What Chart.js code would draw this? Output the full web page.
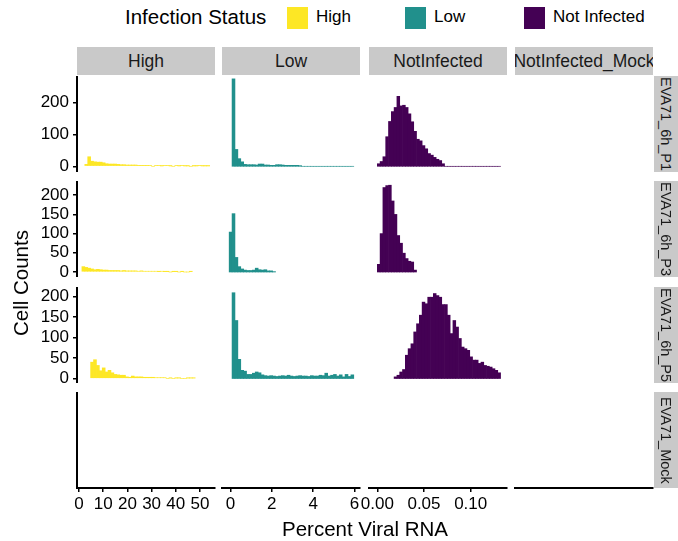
<!DOCTYPE html>
<html>
<head>
<meta charset="utf-8">
<script src="https://cdn.jsdelivr.net/npm/chart.js@4.4.0/dist/chart.umd.min.js"></script>
<style>
    html, body { margin: 0; padding: 0; background: #fff; }
    #root {
        position: relative; width: 678px; height: 541px; overflow: hidden;
        font-family: "Liberation Sans", Arial, sans-serif; color: #000;
    }
    canvas { position: absolute; }
    .strip-top {
        position: absolute; top: 47px; height: 28px; background: #c9c9c9;
        display: flex; align-items: center; justify-content: center;
        overflow: hidden; white-space: nowrap; font-size: 17.5px; color: #1a1a1a;
    }
    .strip-right {
        position: absolute; left: 654px; width: 28px; background: #c9c9c9;
        display: flex; align-items: center; justify-content: center;
        overflow: hidden; white-space: nowrap; font-size: 14.5px; color: #1a1a1a;
    }
    .strip-right span { writing-mode: vertical-rl; margin-right: 5px; }
    .legend-title { position: absolute; left: 125px; top: 5px; font-size: 20.5px; }
    .swatch { position: absolute; top: 7px; width: 21px; height: 22px; }
    .legend-label { position: absolute; top: 7px; font-size: 17px; }
    .x-title { position: absolute; left: 0; width: 730px; top: 517px; text-align: center; font-size: 20.5px; }
    .y-title {
        position: absolute; left: 21px; top: 283px; font-size: 20.5px; white-space: nowrap;
        transform: translate(-50%, -50%) rotate(-90deg);
    }
</style>
</head>
<body>
<div id="root"></div>
<script>
// facets
const ROWS = ["EVA71_6h_P1", "EVA71_6h_P3", "EVA71_6h_P5", "EVA71_Mock"];
const COLS = ["High", "Low", "NotInfected", "NotInfected_Mock"];
const LEGEND_LABELS = ["High", "Low", "Not Infected"];
const COLORS = ["#FDE725", "#21908C", "#440154"];

// histogram bins per column (High, Low, NotInfected)
const BIN_START = [0, -0.06, 0];
const BIN_WIDTH = [1.2, 0.14, 0.003];

// cell counts per bin (null = outside the data range)
const _ = null;
const highP1 = [_,_,6,30,16,14,13,13,11,8,7,7,7,6,5,5,4,4,4,4,3,3,3,3,2,0,2,2,1,2,2,1,0,2,1,2,1,1,0,1,1,2,1,1,1];
const lowP1 = [_,275,53,24,14,6,5,5,5,4,7,7,4,4,3,3,5,5,4,3,3,3,3,3,2,0,0,0,0,0,0,0,0,0,0,0,0,0,0,0,0,0,0,_,_];
const notInfP1 = [8,15,30,93,141,172,185,220,190,192,185,165,140,110,85,80,65,55,40,35,28,22,18,8,0,0,0,0,0,0,0,0,0,0,0,0,0,0,0,0,0,0,0,0,_];

const highP3 = [_,14,12,10,8,6,7,6,5,5,4,4,4,4,3,4,3,3,3,3,2,3,2,2,2,2,2,1,2,1,1,0,1,1,0,1,0,0,1,_,_,_,_,_,_];
const lowP3 = [104,152,38,14,8,5,4,4,5,10,6,5,6,3,3,1,_,_,_,_,_,_,_,_,_,_,_,_,_,_,_,_,_,_,_,_,_,_,_,_,_,_,_,_,_];
const notInfP3 = [20,100,220,225,226,185,150,95,75,49,35,28,26,5,_,_,_,_,_,_,_,_,_,_,_,_,_,_,_,_,_,_,_,_,_,_,_,_,_,_,_,_,_,_,_];

const highP5 = [_,_,_,_,40,46,32,19,26,16,20,14,10,9,8,8,4,3,6,4,4,4,3,3,3,3,2,2,2,2,0,1,0,1,1,0,0,1,1,1,_,_,_,_,_];
const lowP5 = [_,210,142,47,20,18,10,10,13,16,14,9,7,6,7,6,5,6,7,6,8,6,5,6,7,6,6,5,7,6,6,8,7,13,6,8,10,6,9,4,10,5,9,_,_];
const notInfP5 = [_,_,_,_,_,_,4,8,16,22,57,73,85,114,134,155,187,183,199,199,208,203,199,181,181,155,110,142,126,98,77,73,69,53,45,45,37,40,32,30,28,24,20,14,_];

const COUNTS = [
    [highP1, lowP1, notInfP1, null],
    [highP3, lowP3, notInfP3, null],
    [highP5, lowP5, notInfP5, null],
    [null, null, null, null]
];

// axes
const Y_RANGE = [[-18, 284], [-13, 237], [-11, 224], [0, 1]];
const Y_TICKS = [[0, 100, 200], [0, 50, 100, 150, 200], [0, 50, 100, 150, 200], []];
const X_RANGE = [[-0.83, 56.2], [-0.406, 6.261], [-0.00889, 0.1389], [0, 1]];
const X_TICKS = [[0, 10, 20, 30, 40, 50], [0, 2, 4, 6], [0, 0.05, 0.10], []];
const X_TICK_LABELS = [["0", "10", "20", "30", "40", "50"], ["0", "2", "4", "6"], ["0.00", "0.05", "0.10"], []];

// layout
const COL_LEFT = [77, 222, 369, 515];
const ROW_TOP = [76, 181, 287, 392];
const PANEL_W = 138;
const PANEL_H = 96;
const X_AXIS_H = 53;
const EXT = 24;

class FacetChartManager {
    constructor(root) {
        this.root = root;
        this.charts = [];
    }

    render() {
        for (let r = 0; r < ROWS.length; r++) {
            for (let c = 0; c < COLS.length; c++) {
                this._createPanel(r, c);
            }
        }
        this._createStrips();
        this._createLegend();
        this._createTitles();
    }

    /**
     * one histogram panel
     */
    _createPanel(r, c) {
        const isLeft = c === 0;
        const isBottom = r === ROWS.length - 1;
        const left = isLeft ? 0 : COL_LEFT[c] - EXT;
        const width = COL_LEFT[c] + PANEL_W + EXT - left;
        const height = PANEL_H + (isBottom ? X_AXIS_H : 0);

        const canvas = document.createElement("canvas");
        canvas.width = width;
        canvas.height = height;
        canvas.style.left = left + "px";
        canvas.style.top = ROW_TOP[r] + "px";
        this.root.appendChild(canvas);

        const counts = COUNTS[r][c];
        const datasets = [];
        if (counts) {
            datasets.push({
                data: counts.map((y, i) => ({ x: BIN_START[c] + BIN_WIDTH[c] * (i + 0.5), y: y })),
                backgroundColor: COLORS[c],
                borderWidth: 0,
                barPercentage: 1,
                categoryPercentage: 1
            });
        }

        const tickFont = { family: "Liberation Sans", size: 17 };
        const axisGrid = {
            display: true,
            drawOnChartArea: false,
            drawTicks: true,
            tickLength: 4,
            color: "#000",
            lineWidth: 1.5,
            offset: false
        };

        const chart = new Chart(canvas.getContext("2d"), {
            type: "bar",
            data: { datasets: datasets },
            options: {
                responsive: false,
                animation: false,
                events: [],
                layout: { padding: { left: isLeft ? 0 : EXT, right: EXT, top: 0, bottom: 0 } },
                plugins: { legend: { display: false }, tooltip: { enabled: false } },
                scales: {
                    x: {
                        type: "linear",
                        min: X_RANGE[c][0],
                        max: X_RANGE[c][1],
                        offset: false,
                        display: isBottom,
                        grid: axisGrid,
                        border: { display: true, color: "#000", width: 2 },
                        ticks: {
                            font: tickFont,
                            color: "#000",
                            padding: 2,
                            maxRotation: 0,
                            autoSkip: false,
                            callback: (v, i) => X_TICK_LABELS[c][i]
                        },
                        afterBuildTicks: s => { s.ticks = X_TICKS[c].map(v => ({ value: v })); },
                        afterFit: s => {
                            if (!isBottom) return;
                            s.height = X_AXIS_H;
                            s.paddingLeft = 0;
                            s.paddingRight = 0;
                        }
                    },
                    y: {
                        type: "linear",
                        min: Y_RANGE[r][0],
                        max: Y_RANGE[r][1],
                        display: isLeft,
                        grid: axisGrid,
                        border: { display: true, color: "#000", width: 2 },
                        ticks: {
                            font: tickFont,
                            color: "#000",
                            padding: 4,
                            autoSkip: false
                        },
                        afterBuildTicks: s => { s.ticks = Y_TICKS[r].map(v => ({ value: v })); },
                        afterFit: s => {
                            if (!isLeft) return;
                            s.width = COL_LEFT[0];
                            s.paddingTop = 0;
                            s.paddingBottom = 0;
                        }
                    }
                }
            }
        });
        this.charts.push(chart);
    }

    _createStrips() {
        COLS.forEach((name, c) => {
            const div = document.createElement("div");
            div.className = "strip-top";
            div.style.left = COL_LEFT[c] + "px";
            div.style.width = PANEL_W + "px";
            div.innerHTML = "<span>" + name + "</span>";
            this.root.appendChild(div);
        });
        ROWS.forEach((name, r) => {
            const div = document.createElement("div");
            div.className = "strip-right";
            div.style.top = ROW_TOP[r] + "px";
            div.style.height = PANEL_H + "px";
            div.innerHTML = "<span>" + name + "</span>";
            this.root.appendChild(div);
        });
    }

    _createLegend() {
        const title = document.createElement("div");
        title.className = "legend-title";
        title.textContent = "Infection Status";
        this.root.appendChild(title);

        const swatchLeft = [287, 405, 524];
        LEGEND_LABELS.forEach((label, i) => {
            const sw = document.createElement("div");
            sw.className = "swatch";
            sw.style.left = swatchLeft[i] + "px";
            sw.style.background = COLORS[i];
            this.root.appendChild(sw);

            const txt = document.createElement("div");
            txt.className = "legend-label";
            txt.style.left = (swatchLeft[i] + 29) + "px";
            txt.textContent = label;
            this.root.appendChild(txt);
        });
    }

    _createTitles() {
        const xt = document.createElement("div");
        xt.className = "x-title";
        xt.textContent = "Percent Viral RNA";
        this.root.appendChild(xt);

        const yt = document.createElement("div");
        yt.className = "y-title";
        yt.textContent = "Cell Counts";
        this.root.appendChild(yt);
    }
}

new FacetChartManager(document.getElementById("root")).render();
</script>
</body>
</html>
